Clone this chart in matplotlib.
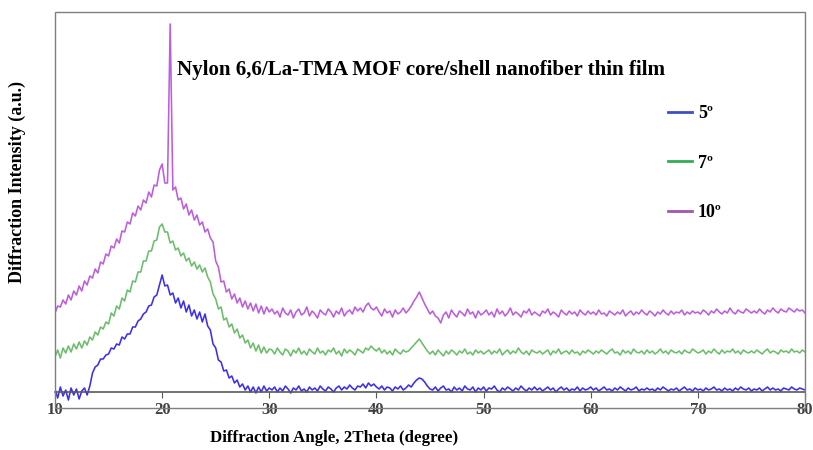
import matplotlib

matplotlib.use("Agg")
import matplotlib.pyplot as plt
import numpy as np
from matplotlib.lines import Line2D
from matplotlib.patches import Rectangle

plt.rcParams["font.family"] = ["Liberation Serif", "DejaVu Serif"]
plt.rcParams["font.weight"] = "bold"

# 2theta sampled every 0.25 deg, 10-80
two_theta = np.arange(10.0, 80.001, 0.25)

# intensities (a.u.), 10-30 deg
blue_hump = [3, -6, 5, -4, 2, -8, 4, -3, 3, -7, 1, 4, -3, 6, 19, 25,
             27, 33, 33, 37, 38, 44, 43, 48, 47, 55, 53, 58, 58, 65, 65, 71,
             73, 78, 80, 86, 87, 95, 97, 107, 117, 106, 107, 97, 99, 89, 94, 84,
             91, 80, 87, 76, 82, 73, 80, 70, 78, 66, 62, 48, 44, 32, 30, 21,
             22, 14, 16, 9, 12, 5, 8, 2, 6, 0, 5, -1, 5, 0, 6, 1, 4]
green_hump = [35, 42, 34, 44, 39, 46, 40, 48, 43, 50, 44, 51, 47, 55, 52, 60,
              57, 65, 63, 70, 68, 79, 76, 86, 83, 94, 91, 102, 100, 111, 110, 120,
              120, 131, 131, 141, 141, 151, 152, 165, 168, 160, 160, 149, 151, 142, 144, 136,
              139, 131, 134, 126, 130, 123, 127, 120, 124, 115, 110, 98, 93, 83, 85, 72,
              74, 65, 68, 59, 63, 54, 57, 49, 52, 44, 49, 41, 47, 39, 45, 39, 43]
purple_hump = [79, 86, 85, 92, 88, 97, 92, 101, 97, 106, 101, 111, 107, 116, 114, 123,
               119, 130, 128, 138, 136, 146, 144, 153, 149, 161, 160, 170, 168, 179, 176, 186,
               182, 192, 189, 200, 195, 207, 206, 222, 228, 209, 209, 368, 202, 205, 192, 194,
               183, 188, 177, 182, 172, 177, 167, 170, 160, 163, 154, 150, 131, 125, 110, 111,
               100, 103, 93, 98, 89, 94, 85, 91, 83, 89, 81, 88, 79, 86, 78, 85, 80]

# 30.25-80 deg
blue_tail = [2, 5, 0, 4, 1, 6, 3, -1, 4, 2, 6, 1, 3, 0, 5, 2, 4, 1, 6, 3,
             1, 5, 3, 0, 4, 6, 2, 5, 3, 7, 4, 2, 6, 5, 8, 4, 9, 6, 8, 5,
             3, 6, 2, 5, 4, 1, 5, 3, 6, 2, 4, 7, 5, 9, 12, 14, 13, 10, 6, 3,
             2, 5, 1, 4, 6, 2, 3, 0, 5, 2, 4, 1, 6, 3, 2, 5, 0, 4, 2, 5,
             1, 4, 3, 6, 2, 0, 4, 2, 5, 3, 1, 4, 2, 6, 3, 1, 4, 2, 5, 2,
             4, 1, 3, 5, 2, 4, 0, 3, 5, 2, 4, 1, 3, 2, 5, 1, 4, 2, 3, 5,
             2, 4, 1, 3, 5, 2, 3, 1, 4, 2, 5, 3, 1, 4, 2, 3, 5, 1, 3, 2,
             4, 2, 3, 1, 4, 2, 5, 3, 1, 3, 2, 4, 1, 3, 5, 2, 3, 1, 4, 2,
             3, 1, 4, 2, 3, 5, 2, 3, 1, 4, 2, 3, 1, 4, 2, 5, 3, 2, 4, 1,
             3, 2, 4, 1, 3, 5, 2, 4, 2, 3, 1, 4, 3, 2, 5, 3, 2, 4, 3, 2]
green_tail = [42, 38, 44, 40, 37, 43, 41, 36, 42, 39, 44, 38, 41, 37, 43, 40, 38, 44, 39, 41,
              37, 42, 40, 44, 38, 41, 36, 43, 39, 42, 40, 37, 43, 41, 39, 44, 42, 46, 43, 41,
              44, 39, 42, 38, 41, 37, 43, 40, 38, 42, 40, 41, 44, 47, 50, 53, 49, 45, 41, 38,
              41, 37, 42, 39, 36, 41, 38, 42, 40, 37, 41, 39, 43, 38, 40, 37, 42, 39, 41, 38,
              40, 42, 38, 41, 39, 43, 37, 40, 42, 38, 41, 39, 44, 40, 38, 41, 37, 42, 40, 39,
              41, 38, 40, 42, 37, 41, 39, 43, 38, 40, 41, 38, 42, 39, 40, 37, 41, 39, 42, 40,
              38, 41, 39, 42, 40, 38, 41, 43, 39, 40, 37, 42, 39, 41, 38, 43, 40, 39, 41, 38,
              42, 39, 41, 38, 40, 43, 39, 41, 38, 42, 40, 39, 41, 38, 42, 40, 39, 43, 41, 39,
              40, 42, 38, 41, 39, 43, 40, 38, 42, 39, 41, 40, 43, 39, 41, 38, 42, 40, 39, 41,
              39, 42, 40, 38, 41, 43, 39, 41, 40, 38, 42, 40, 41, 39, 43, 40, 41, 39, 42, 40]
purple_tail = [83, 78, 81, 75, 84, 79, 77, 82, 74, 80, 83, 77, 79, 85, 76, 81, 78, 74, 82, 79,
               77, 83, 80, 75, 81, 78, 84, 76, 80, 82, 78, 85, 81, 84, 80, 86, 89, 84, 82, 85,
               80, 76, 83, 79, 81, 75, 82, 78, 80, 84, 79, 82, 86, 91, 95, 100, 94, 88, 83, 78,
               81, 76, 74, 69, 77, 80, 74, 82, 78, 75, 81, 79, 76, 83, 78, 80, 74, 81, 77, 79,
               82, 77, 80, 75, 83, 78, 81, 76, 79, 84, 77, 80, 78, 75, 81, 79, 83, 77, 80, 78,
               76, 81, 79, 83, 77, 80, 78, 75, 82, 79, 77, 81, 78, 80, 76, 82, 79, 77, 81, 78,
               80, 77, 82, 78, 79, 76, 81, 79, 77, 80, 78, 82, 76, 79, 81, 77, 80, 78, 82, 79,
               77, 81, 79, 76, 80, 78, 82, 79, 77, 81, 78, 80, 79, 82, 77, 80, 78, 81, 79, 80,
               78, 82, 80, 77, 81, 79, 83, 80, 78, 81, 79, 84, 80, 78, 82, 80, 79, 83, 81, 79,
               81, 79, 83, 80, 78, 82, 80, 84, 81, 79, 83, 81, 80, 84, 82, 80, 83, 81, 82, 79]

series = [
    ("5º", blue_hump + blue_tail, "#3a2fef", "#3d4fc4"),
    ("7º", green_hump + green_tail, "#6bbd6b", "#30ad55"),
    ("10º", purple_hump + purple_tail, "#bd5ddd", "#a653b4"),
]
x_ticks = [10, 20, 30, 40, 50, 60, 70, 80]

W, H = 813, 450
fig = plt.figure(figsize=(W / 100, H / 100), dpi=100)
ax = fig.add_axes([55 / W, 1 - 408 / H, 750 / W, 396 / H])

for label, vals, col, _ in series:
    ax.plot(two_theta, vals, color=col, lw=1.15)

ax.set_xlim(10, 80)
ax.set_ylim(-16, 380)
ax.set_yticks([])
ax.set_xticks(x_ticks, [str(t) for t in x_ticks])

for side in ("left", "right", "top"):
    ax.spines[side].set_visible(False)
ax.spines["bottom"].set_position(("data", 0))
ax.spines["bottom"].set_color("#595959")
ax.spines["bottom"].set_linewidth(1.2)
ax.tick_params(axis="x", direction="out", length=4, color="#595959",
               labelsize=12, labelcolor="#404040", pad=3.5)
ax.add_patch(Rectangle((0, 0), 1, 1, transform=ax.transAxes, fill=False,
                       edgecolor="#7f7f7f", lw=1.0, clip_on=False, zorder=5))

handles = [Line2D([], [], color=lc, lw=2) for _, _, _, lc in series]
ax.legend(handles, [s[0] for s in series], loc="upper left", frameon=False,
          bbox_to_anchor=(668 / W, 1 - 105 / H), bbox_transform=fig.transFigure,
          fontsize=13, handlelength=1.35, handletextpad=0.3, labelspacing=1.8,
          borderpad=0, borderaxespad=0)

fig.text(177 / W, 1 - 70 / H, "Nylon 6,6/La-TMA MOF core/shell nanofiber thin film",
         ha="left", va="center", fontsize=15.1)
fig.text(334 / W, 1 - 438 / H, "Diffraction Angle, 2Theta (degree)",
         ha="center", va="center", fontsize=12.2)
fig.text(17 / W, 1 - 182 / H, "Diffraction Intensity (a.u.)", rotation=90,
         ha="center", va="center", fontsize=13)

fig.savefig("out.png", dpi=100)
